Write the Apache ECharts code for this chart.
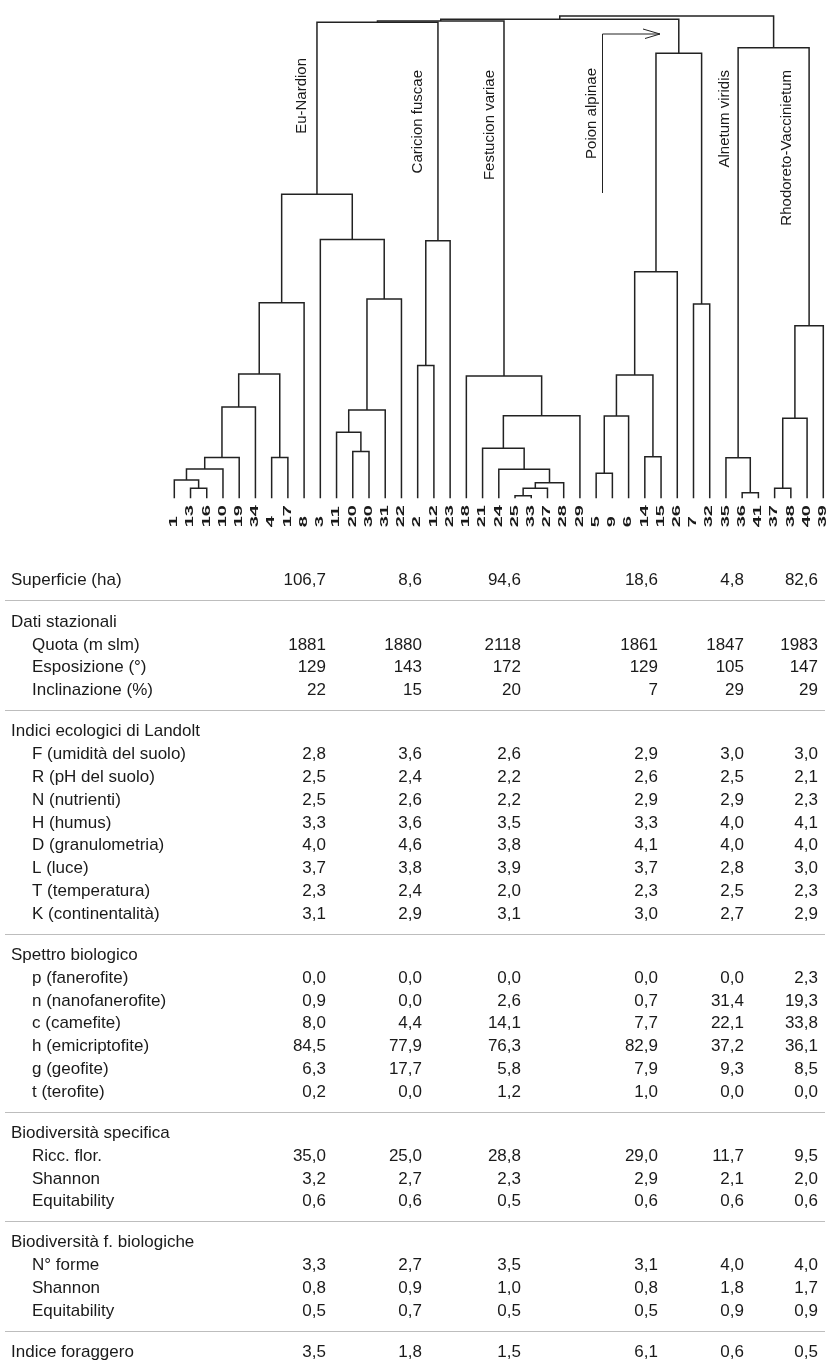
<!DOCTYPE html>
<html>
<head>
<meta charset="utf-8">
<script src="https://cdn.jsdelivr.net/npm/echarts@6/dist/echarts.min.js"></script>
<style>
  html, body { margin: 0; padding: 0; background: #ffffff; }
  #chart { width: 829px; height: 1365px; }
</style>
</head>
<body>
<div id="chart"></div>
<script>
// ---- Dendrogram: leaf order (left to right) ----
const leafLabels = ['1','13','16','10','19','34','4','17','8','3','11','20','30','31','22',
  '2','12','23','18','21','24','25','33','27','28','29','5','9','6','14','15','26','7','32',
  '35','36','41','37','38','40','39'];

// ---- Dendrogram merges: [node id, left child, right child, height] ----
const merges = [
  ['a1', '13', '16', 0.025],
  ['a2', '1', 'a1', 0.046],
  ['a3', 'a2', '10', 0.073],
  ['a4', 'a3', '19', 0.102],
  ['a5', 'a4', '34', 0.228],
  ['a6', '4', '17', 0.102],
  ['a7', 'a5', 'a6', 0.311],
  ['a8', 'a7', '8', 0.489],
  ['b1', '20', '30', 0.117],
  ['b2', '11', 'b1', 0.165],
  ['b3', 'b2', '31', 0.221],
  ['b4', 'b3', '22', 0.498],
  ['b5', '3', 'b4', 0.647],
  ['en', 'a8', 'b5', 0.760],
  ['c1', '2', '12', 0.332],
  ['c2', 'c1', '23', 0.644],
  ['f1', '25', '33', 0.0065],
  ['f2', 'f1', '27', 0.025],
  ['f3', 'f2', '28', 0.039],
  ['f4', '24', 'f3', 0.0725],
  ['f5', '21', 'f4', 0.125],
  ['f6', 'f5', '29', 0.2065],
  ['f7', '18', 'f6', 0.306],
  ['p1', '5', '9', 0.0625],
  ['p2', 'p1', '6', 0.206],
  ['p3', '14', '15', 0.104],
  ['p4', 'p2', 'p3', 0.308],
  ['p5', 'p4', '26', 0.5665],
  ['p6', '7', '32', 0.486],
  ['p7', 'p5', 'p6', 1.1125],
  ['l1', '36', '41', 0.014],
  ['l2', '35', 'l1', 0.1015],
  ['r1', '37', '38', 0.025],
  ['r2', 'r1', '40', 0.200],
  ['r3', 'r2', '39', 0.4315],
  ['ar', 'l2', 'r3', 1.1265],
  ['k1', 'en', 'c2', 1.190],
  ['k2', 'k1', 'f7', 1.193],
  ['k3', 'k2', 'p7', 1.1975],
  ['k4', 'k3', 'ar', 1.206]
];

// ---- Vegetation groups named on the dendrogram ----
const groupNames = ['Eu-Nardion', 'Caricion fuscae', 'Festucion variae',
  'Poion alpinae', 'Alnetum viridis', 'Rhodoreto-Vaccinietum'];

// ---- Table values, one array per row (columns follow the six groups) ----
const superficie      = [106.7, 8.6, 94.6, 18.6, 4.8, 82.6];
const quota           = [1881, 1880, 2118, 1861, 1847, 1983];
const esposizione     = [129, 143, 172, 129, 105, 147];
const inclinazione    = [22, 15, 20, 7, 29, 29];
const landoltF        = [2.8, 3.6, 2.6, 2.9, 3.0, 3.0];
const landoltR        = [2.5, 2.4, 2.2, 2.6, 2.5, 2.1];
const landoltN        = [2.5, 2.6, 2.2, 2.9, 2.9, 2.3];
const landoltH        = [3.3, 3.6, 3.5, 3.3, 4.0, 4.1];
const landoltD        = [4.0, 4.6, 3.8, 4.1, 4.0, 4.0];
const landoltL        = [3.7, 3.8, 3.9, 3.7, 2.8, 3.0];
const landoltT        = [2.3, 2.4, 2.0, 2.3, 2.5, 2.3];
const landoltK        = [3.1, 2.9, 3.1, 3.0, 2.7, 2.9];
const spettroP        = [0.0, 0.0, 0.0, 0.0, 0.0, 2.3];
const spettroN        = [0.9, 0.0, 2.6, 0.7, 31.4, 19.3];
const spettroC        = [8.0, 4.4, 14.1, 7.7, 22.1, 33.8];
const spettroH        = [84.5, 77.9, 76.3, 82.9, 37.2, 36.1];
const spettroG        = [6.3, 17.7, 5.8, 7.9, 9.3, 8.5];
const spettroT        = [0.2, 0.0, 1.2, 1.0, 0.0, 0.0];
const riccFlor        = [35.0, 25.0, 28.8, 29.0, 11.7, 9.5];
const shannonSpec     = [3.2, 2.7, 2.3, 2.9, 2.1, 2.0];
const equitSpec       = [0.6, 0.6, 0.5, 0.6, 0.6, 0.6];
const nForme          = [3.3, 2.7, 3.5, 3.1, 4.0, 4.0];
const shannonForme    = [0.8, 0.9, 1.0, 0.8, 1.8, 1.7];
const equitForme      = [0.5, 0.7, 0.5, 0.5, 0.9, 0.9];
const indiceForaggero = [3.5, 1.8, 1.5, 6.1, 0.6, 0.5];

// Sections of the table: heading, optional own values, indented rows [label, values, decimals]
const sections = [
  { head: 'Superficie (ha)', values: superficie, dec: 1 },
  { head: 'Dati stazionali', rows: [
      ['Quota (m slm)', quota, 0], ['Esposizione (°)', esposizione, 0], ['Inclinazione (%)', inclinazione, 0]] },
  { head: 'Indici ecologici di Landolt', rows: [
      ['F (umidità del suolo)', landoltF, 1], ['R (pH del suolo)', landoltR, 1],
      ['N (nutrienti)', landoltN, 1], ['H (humus)', landoltH, 1],
      ['D (granulometria)', landoltD, 1], ['L (luce)', landoltL, 1],
      ['T (temperatura)', landoltT, 1], ['K (continentalità)', landoltK, 1]] },
  { head: 'Spettro biologico', rows: [
      ['p (fanerofite)', spettroP, 1], ['n (nanofanerofite)', spettroN, 1],
      ['c (camefite)', spettroC, 1], ['h (emicriptofite)', spettroH, 1],
      ['g (geofite)', spettroG, 1], ['t (terofite)', spettroT, 1]] },
  { head: 'Biodiversità specifica', rows: [
      ['Ricc. flor.', riccFlor, 1], ['Shannon', shannonSpec, 1], ['Equitability', equitSpec, 1]] },
  { head: 'Biodiversità f. biologiche', rows: [
      ['N° forme', nForme, 1], ['Shannon', shannonForme, 1], ['Equitability', equitForme, 1]] },
  { head: 'Indice foraggero', values: indiceForaggero, dec: 1 }
];

// ---- Layout ----
const FONT = '"Liberation Sans", Arial, Helvetica, sans-serif';
const INK = '#1a1a1a';
const tableLayout = {
  firstY: 580, itemStep: 22.8, headStep: 23, groupGap: 41, firstGap: 42, ruleOffset: 19.5,
  headX: 11, itemX: 32, colRight: [326, 422, 521, 658, 744, 818], ruleX0: 5, ruleX1: 825,
  fontSize: 17
};
// group name anchors: [x centre, top of text]
const groupLabelPos = [[302, 58], [418, 70], [490, 70], [592, 68], [725, 70], [787, 70]];

// ---- Build dendrogram geometry in data units (leaf index, height) ----
const nodeX = {}, nodeH = {};
leafLabels.forEach((l, i) => { nodeX[l] = i; nodeH[l] = 0; });
const bracketData = merges.map(([id, a, b, h]) => {
  nodeX[id] = (nodeX[a] + nodeX[b]) / 2;
  nodeH[id] = h;
  return [nodeX[a], nodeH[a], nodeX[b], nodeH[b], h];
});

// ---- Build table cells in layout units ----
const fmt = (v, d) => v.toFixed(d).replace('.', ',');
const cells = [];
const rules = [];
let y = tableLayout.firstY;
sections.forEach((s, si) => {
  if (si > 0) {
    rules.push([tableLayout.ruleX0, tableLayout.ruleX1, y + tableLayout.ruleOffset]);
    y += (si === 1 ? tableLayout.firstGap : tableLayout.groupGap);
  }
  cells.push({ x: tableLayout.headX, y, text: s.head, align: 'left' });
  if (s.values) {
    s.values.forEach((v, c) => cells.push({ x: tableLayout.colRight[c], y, text: fmt(v, s.dec), align: 'right' }));
  }
  if (s.rows) {
    s.rows.forEach(([label, vals, dec], ri) => {
      y += (ri === 0 ? tableLayout.headStep : tableLayout.itemStep);
      cells.push({ x: tableLayout.itemX, y, text: label, align: 'left' });
      vals.forEach((v, c) => cells.push({ x: tableLayout.colRight[c], y, text: fmt(v, dec), align: 'right' }));
    });
  }
});

const chart = echarts.init(document.getElementById('chart'), null, { renderer: 'canvas' });

const option = {
  backgroundColor: '#ffffff',
  animation: false,
  grid: [
    { left: 174.3, width: 649, top: 0.3, height: 498 },
    { left: 0, top: 0, width: 829, height: 1365 }
  ],
  xAxis: [
    { type: 'value', gridIndex: 0, min: 0, max: 40, show: false },
    { type: 'value', gridIndex: 1, min: 0, max: 829, show: false }
  ],
  yAxis: [
    { type: 'value', gridIndex: 0, min: 0, max: 1.245, show: false },
    { type: 'value', gridIndex: 1, min: 0, max: 1365, inverse: true, show: false }
  ],
  series: [
    {
      // dendrogram brackets
      type: 'custom', xAxisIndex: 0, yAxisIndex: 0, silent: true,
      data: bracketData,
      encode: { x: [0, 2], y: [1, 3, 4] },
      renderItem: (params, api) => {
        const p1 = api.coord([api.value(0), api.value(1)]);
        const p2 = api.coord([api.value(0), api.value(4)]);
        const p3 = api.coord([api.value(2), api.value(4)]);
        const p4 = api.coord([api.value(2), api.value(3)]);
        return { type: 'polyline', shape: { points: [p1, p2, p3, p4] },
          style: { stroke: '#222', lineWidth: 1.5, fill: 'none' } };
      }
    },
    {
      // leaf labels below the dendrogram, read bottom to top
      type: 'custom', xAxisIndex: 0, yAxisIndex: 0, silent: true,
      data: leafLabels.map((l, i) => [i, 0]),
      renderItem: (params, api) => {
        const p = api.coord([api.value(0), api.value(1)]);
        return { type: 'text', x: p[0], y: p[1] + 29, rotation: Math.PI / 2, scaleX: 2.0, scaleY: 1,
          style: { text: leafLabels[params.dataIndex], fontSize: 10, fontWeight: 'bold',
            fontFamily: FONT, fill: INK, align: 'left', verticalAlign: 'middle' } };
      }
    },
    {
      // horizontal rules between table sections
      type: 'custom', xAxisIndex: 1, yAxisIndex: 1, silent: true,
      data: rules,
      renderItem: (params, api) => {
        const a = api.coord([api.value(0), api.value(2)]);
        const b = api.coord([api.value(1), api.value(2)]);
        return { type: 'line', shape: { x1: a[0], y1: Math.round(a[1]) + 0.5, x2: b[0], y2: Math.round(b[1]) + 0.5 },
          style: { stroke: '#bdbdbd', lineWidth: 1 } };
      }
    },
    {
      // table text
      type: 'custom', xAxisIndex: 1, yAxisIndex: 1, silent: true,
      data: cells.map(c => [c.x, c.y]),
      renderItem: (params, api) => {
        const c = cells[params.dataIndex];
        const p = api.coord([api.value(0), api.value(1)]);
        return { type: 'text', x: p[0], y: p[1],
          style: { text: c.text, fontSize: tableLayout.fontSize, fontFamily: FONT, fill: INK,
            align: c.align, verticalAlign: 'middle' } };
      }
    }
  ],
  graphic: [
    ...groupNames.map((name, i) => ({
      type: 'text', x: groupLabelPos[i][0], y: groupLabelPos[i][1], rotation: Math.PI / 2,
      style: { text: name, fontSize: 15, fontFamily: FONT, fill: INK, align: 'right', verticalAlign: 'middle' },
      silent: true
    })),
    {
      // pointer from the Poion alpinae label to its cluster
      type: 'polyline', silent: true,
      shape: { points: [[602.5, 193], [602.5, 34], [660, 34]] },
      style: { stroke: '#222', lineWidth: 1, fill: 'none' }
    },
    {
      type: 'polyline', silent: true,
      shape: { points: [[643, 29], [660, 34], [645, 38.5]] },
      style: { stroke: '#222', lineWidth: 1, fill: 'none' }
    }
  ]
};

chart.setOption(option);
</script>
</body>
</html>
